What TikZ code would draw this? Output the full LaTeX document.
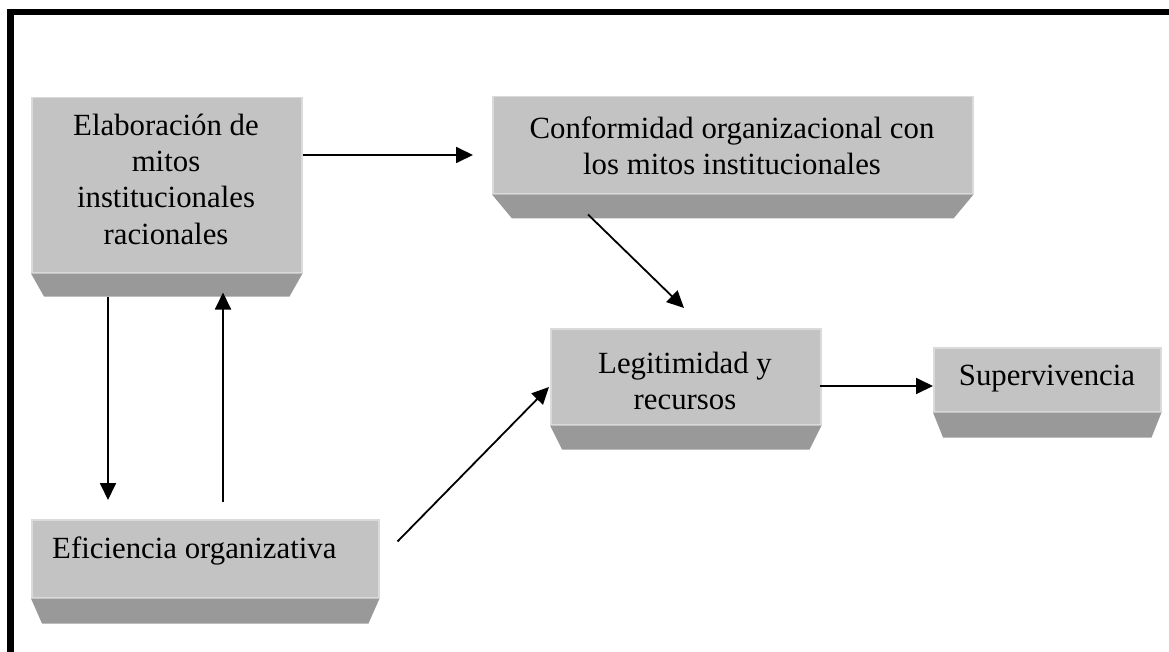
\documentclass[tikz,border=0pt]{standalone}
\usepackage{fontspec}
\setmainfont{Liberation Serif}
\usetikzlibrary{calc,arrows.meta}

\definecolor{faceC}{HTML}{C3C3C3}
\definecolor{edgeC}{HTML}{DADADA}
\definecolor{bevelC}{HTML}{999999}

\tikzset{
  face/.style={rectangle, fill=faceC, draw=edgeC, line width=1.5pt,
    inner sep=0pt, anchor=north west},
  bevel/.style={fill=bevelC},
  % base anchor of a multi-line label sits on its last line
  lbl/.style={font=\fontsize{30.8}{36}\selectfont, align=center,
    inner sep=0pt, anchor=base},
  arr/.style={-{Triangle[length=17pt,width=16pt]}, line width=1.8pt},
  frameline/.style={line width=6.5pt, line join=miter},
}

% lower slanted edge under a face: node, inset, depth
\newcommand\bevelof[3]{%
  \fill[bevel] (#1.south west) -- (#1.south east) -- ++(-#2,#3)
    -- ($(#1.south west)+(#2,#3)$) -- cycle;}

\begin{document}
\begin{tikzpicture}[x=1pt,y=-1pt]
\useasboundingbox (0,0) rectangle (1169,652);

% open frame: left and top rules
\draw[frameline] (10.5,652) -- (10.5,12) -- (1169,12);

% faces
\node[face, minimum width=270pt, minimum height=175pt] (elab)  at (31,97)  {};
\node[face, minimum width=480pt, minimum height=97pt]  (conf)  at (492,96) {};
\node[face, minimum width=270pt, minimum height=96pt]  (legit) at (550,328) {};
\node[face, minimum width=227pt, minimum height=64pt]  (surv)  at (933,347) {};
\node[face, minimum width=347pt, minimum height=78pt]  (efic)  at (31,519) {};

% slanted lower edges
\bevelof{elab}{13}{23}
\bevelof{conf}{20}{24}
\bevelof{legit}{12}{24}
\bevelof{surv}{10}{25}
\bevelof{efic}{11}{25}

% labels
\node[lbl] (elabT)  at (166,244)  {Elaboración de\\mitos\\institucionales\\racionales};
\node[lbl] (confT)  at (732,175)  {Conformidad organizacional con\\los mitos institucionales};
\node[lbl] (legitT) at (685,409)  {Legitimidad y\\recursos};
\node[lbl] (survT)  at (1047,385) {Supervivencia};
\node[lbl, anchor=base west] (eficT) at (52,558) {Eficiencia organizativa};

% connectors
\draw[arr] ($(elab.north east)+(0,58)$) -- ($(conf.north west)+(-19,59)$);
\draw[arr] ($(elab.south west)+(77,23)$) -- ($(efic.north west)+(77,-19)$);
\draw[arr] ($(efic.north west)+(192,-17)$) -- ($(elab.south west)+(192,19)$);
\draw[arr] ($(conf.south west)+(96,20)$) -- ($(legit.north west)+(134,-20)$);
\draw[arr] ($(efic.south east)+(18,-57)$) -- ($(legit.north west)+(-1,59)$);
\draw[arr] ($(legit.north east)+(-2,58)$) -- ($(surv.north west)+(0,39)$);
\end{tikzpicture}
\end{document}
